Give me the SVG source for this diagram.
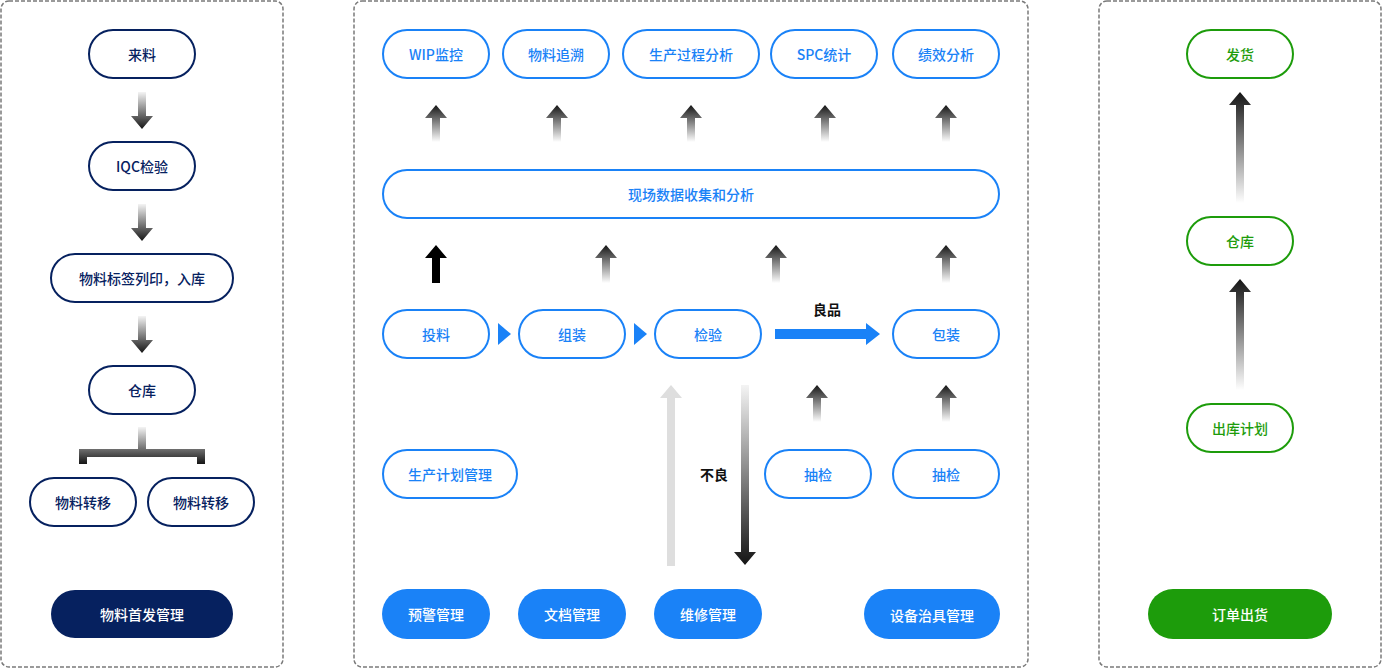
<svg xmlns="http://www.w3.org/2000/svg" width="1382" height="668" viewBox="0 0 1382 668">
<style>
.panel{fill:#fff;stroke:#7a7a7a;stroke-width:1.5;stroke-dasharray:4 2}
.t{font-family:"Noto Sans CJK SC","Noto Sans",sans-serif;font-size:14px;font-weight:500;text-anchor:middle;dominant-baseline:central}
.nv rect{fill:#fff;stroke:#06215f;stroke-width:2}
.nv text{fill:#06215f}
.nvf rect{fill:#06215f}
.bl rect{fill:#fff;stroke:#1a82f7;stroke-width:2}
.bl text{fill:#1a82f7}
.blf rect{fill:#1a82f7}
.gr rect{fill:#fff;stroke:#1d9c0b;stroke-width:2}
.gr text{fill:#1d9c0b}
.grf rect{fill:#1d9c0b}
.w{fill:#fff}
.lbl{font-family:"Noto Sans CJK SC","Noto Sans",sans-serif;font-size:14px;font-weight:bold;fill:#111;text-anchor:middle;dominant-baseline:central}
</style>
<defs>
<linearGradient id="gDown" x1="0" y1="0" x2="0" y2="1"><stop offset="0" stop-color="#f4f4f4"/><stop offset="1" stop-color="#151515"/></linearGradient>
<linearGradient id="gUp" x1="0" y1="1" x2="0" y2="0"><stop offset="0" stop-color="#ffffff"/><stop offset="1" stop-color="#151515"/></linearGradient>
</defs>
<rect class="panel" x="1" y="1" width="282" height="666" rx="8"/>
<rect class="panel" x="354" y="1" width="674" height="666" rx="8"/>
<rect class="panel" x="1099" y="1" width="282" height="666" rx="8"/>

<g id="connectors">
<polygon fill="url(#gDown)" points="138,92 146,92 146,116 153,116 142,129 131,116 138,116"/>
<polygon fill="url(#gDown)" points="138,204 146,204 146,228 153,228 142,241 131,228 138,228"/>
<polygon fill="url(#gDown)" points="138,316 146,316 146,340 153,340 142,353 131,340 138,340"/>
<polygon fill="url(#gDown)" points="138,427 146,427 146,449 205,449 205,464 197,464 197,457 87,457 87,464 79,464 79,449 138,449"/>
<polygon fill="url(#gUp)" points="436,105 447,118 440,118 440,142 432,142 432,118 425,118"/>
<polygon fill="url(#gUp)" points="557,105 568,118 561,118 561,142 553,142 553,118 546,118"/>
<polygon fill="url(#gUp)" points="691,105 702,118 695,118 695,142 687,142 687,118 680,118"/>
<polygon fill="url(#gUp)" points="825,105 836,118 829,118 829,142 821,142 821,118 814,118"/>
<polygon fill="url(#gUp)" points="946,105 957,118 950,118 950,142 942,142 942,118 935,118"/>
<polygon fill="#000" points="436,245 447,258 440,258 440,283 432,283 432,258 425,258"/>
<polygon fill="url(#gUp)" points="606,245 617,258 610,258 610,283 602,283 602,258 595,258"/>
<polygon fill="url(#gUp)" points="776,245 787,258 780,258 780,283 772,283 772,258 765,258"/>
<polygon fill="url(#gUp)" points="946,245 957,258 950,258 950,283 942,283 942,258 935,258"/>
<polygon fill="#1a82f7" points="498,323 511,334 498,345"/>
<polygon fill="#1a82f7" points="634,323 647,334 634,345"/>
<polygon fill="#1a82f7" points="775,329 866,329 866,323 880,334 866,345 866,339 775,339"/>
<text class="lbl" x="827" y="309">良品</text>
<polygon fill="#dedede" points="671,385 682,398 675,398 675,566 667,566 667,398 660,398"/>
<polygon fill="url(#gDown)" points="741,385 749,385 749,552 756,552 745,565 734,552 741,552"/>
<text class="lbl" x="714" y="474">不良</text>
<polygon fill="url(#gUp)" points="817,385 828,398 821,398 821,422 813,422 813,398 806,398"/>
<polygon fill="url(#gUp)" points="946,385 957,398 950,398 950,422 942,422 942,398 935,398"/>
<polygon fill="url(#gUp)" points="1240,92 1251,105 1244,105 1244,203 1236,203 1236,105 1229,105"/>
<polygon fill="url(#gUp)" points="1240,279 1251,292 1244,292 1244,390 1236,390 1236,292 1229,292"/>
</g>

<g id="n-lailiao" class="nv"><rect x="89" y="30" width="106" height="48" rx="24"/><text class="t" x="142" y="54">来料</text></g>
<g id="n-iqc" class="nv"><rect x="89" y="142" width="106" height="48" rx="24"/><text class="t" x="142" y="166">IQC检验</text></g>
<g id="n-label" class="nv"><rect x="51" y="254" width="182" height="48" rx="24"/><text class="t" x="142" y="278">物料标签列印，入库</text></g>
<g id="n-wh1" class="nv"><rect x="89" y="366" width="106" height="48" rx="24"/><text class="t" x="142" y="390">仓库</text></g>
<g id="n-move1" class="nv"><rect x="30" y="478" width="106" height="48" rx="24"/><text class="t" x="83" y="502">物料转移</text></g>
<g id="n-move2" class="nv"><rect x="148" y="478" width="106" height="48" rx="24"/><text class="t" x="201" y="502">物料转移</text></g>
<g id="n-first" class="nvf"><rect x="51" y="590" width="182" height="48" rx="24"/><text class="t w" x="142" y="614">物料首发管理</text></g>

<g id="n-wip" class="bl"><rect x="383" y="30" width="106" height="48" rx="24"/><text class="t" x="436" y="54">WIP监控</text></g>
<g id="n-trace" class="bl"><rect x="503" y="30" width="106" height="48" rx="24"/><text class="t" x="556" y="54">物料追溯</text></g>
<g id="n-proc" class="bl"><rect x="623" y="30" width="136" height="48" rx="24"/><text class="t" x="691" y="54">生产过程分析</text></g>
<g id="n-spc" class="bl"><rect x="771" y="30" width="106" height="48" rx="24"/><text class="t" x="824" y="54">SPC统计</text></g>
<g id="n-perf" class="bl"><rect x="893" y="30" width="106" height="48" rx="24"/><text class="t" x="946" y="54">绩效分析</text></g>
<g id="n-data" class="bl"><rect x="383" y="170" width="616" height="48" rx="24"/><text class="t" x="691" y="194">现场数据收集和分析</text></g>
<g id="n-feed" class="bl"><rect x="383" y="310" width="106" height="48" rx="24"/><text class="t" x="436" y="334">投料</text></g>
<g id="n-asm" class="bl"><rect x="519" y="310" width="106" height="48" rx="24"/><text class="t" x="572" y="334">组装</text></g>
<g id="n-insp" class="bl"><rect x="655" y="310" width="106" height="48" rx="24"/><text class="t" x="708" y="334">检验</text></g>
<g id="n-pack" class="bl"><rect x="893" y="310" width="106" height="48" rx="24"/><text class="t" x="946" y="334">包装</text></g>
<g id="n-plan" class="bl"><rect x="383" y="450" width="134" height="48" rx="24"/><text class="t" x="450" y="474">生产计划管理</text></g>
<g id="n-sample1" class="bl"><rect x="765" y="450" width="106" height="48" rx="24"/><text class="t" x="818" y="474">抽检</text></g>
<g id="n-sample2" class="bl"><rect x="893" y="450" width="106" height="48" rx="24"/><text class="t" x="946" y="474">抽检</text></g>
<g id="n-warn" class="blf"><rect x="382" y="589" width="108" height="50" rx="25"/><text class="t w" x="436" y="614">预警管理</text></g>
<g id="n-doc" class="blf"><rect x="518" y="589" width="108" height="50" rx="25"/><text class="t w" x="572" y="614">文档管理</text></g>
<g id="n-repair" class="blf"><rect x="654" y="589" width="108" height="50" rx="25"/><text class="t w" x="708" y="614">维修管理</text></g>
<g id="n-equip" class="blf"><rect x="864" y="589" width="136" height="50" rx="25"/><text class="t w" x="932" y="615">设备治具管理</text></g>

<g id="n-ship" class="gr"><rect x="1187" y="30" width="106" height="48" rx="24"/><text class="t" x="1240" y="54">发货</text></g>
<g id="n-wh2" class="gr"><rect x="1187" y="217" width="106" height="48" rx="24"/><text class="t" x="1240" y="241">仓库</text></g>
<g id="n-out" class="gr"><rect x="1187" y="404" width="106" height="48" rx="24"/><text class="t" x="1240" y="428">出库计划</text></g>
<g id="n-order" class="grf"><rect x="1148" y="589" width="184" height="50" rx="25"/><text class="t w" x="1240" y="614">订单出货</text></g>
</svg>
